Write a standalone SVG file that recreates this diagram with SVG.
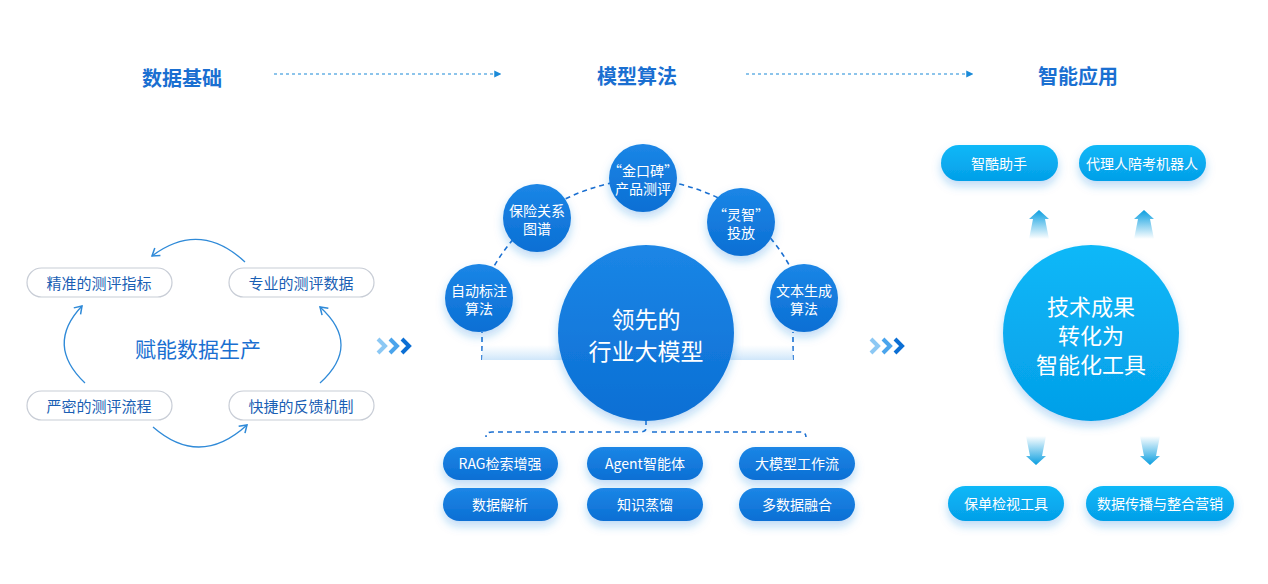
<svg xmlns="http://www.w3.org/2000/svg" width="1268" height="584" viewBox="0 0 1268 584">
<defs>
<style>
text{font-family:"Noto Sans CJK SC","Noto Sans",sans-serif;text-anchor:middle;dominant-baseline:central}
.hd{font-size:20px;fill:#1a6fd1;font-weight:bold}
.wp{fill:#fff;stroke:#c8cdd6;stroke-width:1.2}
.wt{font-size:15px;fill:#1a5fb4}
.bp{fill:url(#gb);filter:url(#sh)}
.cp{fill:url(#gc);filter:url(#sh)}
.pt{font-size:14px;fill:#fff}
.dash{fill:none;stroke:#1a6fd1;stroke-width:1.6;stroke-dasharray:5 4}
.arc{fill:none;stroke:#2f8ad8;stroke-width:1.3}
</style>
<linearGradient id="gb" x1="0" y1="0" x2="0" y2="1"><stop offset="0" stop-color="#1b86e6"/><stop offset="1" stop-color="#0c6fd4"/></linearGradient>
<linearGradient id="gc" x1="0" y1="0" x2="0" y2="1"><stop offset="0" stop-color="#0db8f8"/><stop offset="1" stop-color="#049fe8"/></linearGradient>
<linearGradient id="gband" x1="0" y1="0" x2="0" y2="1"><stop offset="0" stop-color="#d6ebfb" stop-opacity="0"/><stop offset="1" stop-color="#cfe6fa"/></linearGradient>
<linearGradient id="gup" x1="0" y1="0" x2="0" y2="1"><stop offset="0" stop-color="#0a9ee0"/><stop offset="1" stop-color="#0a9ee0" stop-opacity="0"/></linearGradient>
<linearGradient id="gdn" x1="0" y1="1" x2="0" y2="0"><stop offset="0" stop-color="#0a9ee0"/><stop offset="1" stop-color="#0a9ee0" stop-opacity="0"/></linearGradient>
<filter id="sh" x="-30%" y="-40%" width="160%" height="200%"><feDropShadow dx="0" dy="5" stdDeviation="5" flood-color="#1a86e0" flood-opacity="0.3"/></filter>
<marker id="ah" viewBox="0 0 10 10" refX="8" refY="5" markerWidth="6" markerHeight="6" orient="auto"><path d="M0 0L10 5L0 10z" fill="#1a8ad8"/></marker>
<marker id="oa" viewBox="0 0 10 10" refX="8" refY="5" markerWidth="9" markerHeight="9" orient="auto"><path d="M2 1L8 5L2 9" fill="none" stroke="#2f8ad8" stroke-width="1.3"/></marker>
</defs>
<rect width="1268" height="584" fill="#fff"/>
<g id="header">
<text class="hd" x="182" y="77">数据基础</text>
<text class="hd" x="637" y="75">模型算法</text>
<text class="hd" x="1078" y="75">智能应用</text>
</g>
<g id="connectors">
<line x1="274" y1="74" x2="500" y2="74" stroke="#1a8ad8" stroke-width="1.2" stroke-dasharray="3 3" marker-end="url(#ah)"/>
<line x1="746" y1="74" x2="972" y2="74" stroke="#1a8ad8" stroke-width="1.2" stroke-dasharray="3 3" marker-end="url(#ah)"/>
<path class="arc" d="M245 262 Q200 220 152 256" marker-end="url(#oa)"/>
<path class="arc" d="M85 383 Q45 345 82 306" marker-end="url(#oa)"/>
<path class="arc" d="M320 383 Q362 345 320 307" marker-end="url(#oa)"/>
<path class="arc" d="M153 427 Q200 468 247 425" marker-end="url(#oa)"/>
<path class="dash" d="M482 360V332 M793 360V332"/>
<path class="dash" d="M479 298 Q520 190 643 178 Q766 190 804 298"/>
<path class="dash" d="M646 420V428Q646 432 640 432H492Q486 432 486 437 M652 432H800Q806 432 806 437"/>
<g fill="none" stroke-width="4" stroke-linejoin="miter">
<path d="M378 339l7 7-7 7" stroke="#8cc8f4"/><path d="M390 339l7 7-7 7" stroke="#4aa4ec"/><path d="M402 339l7 7-7 7" stroke="#0c6fd4"/>
<path d="M871 339l7 7-7 7" stroke="#8cc8f4"/><path d="M883 339l7 7-7 7" stroke="#4aa4ec"/><path d="M895 339l7 7-7 7" stroke="#0c6fd4"/>
</g>
<path d="M1039 210l-10 9h4l-4 20h20l-4-20h4z" fill="url(#gup)"/>
<path d="M1144 210l-10 9h4l-4 20h20l-4-20h4z" fill="url(#gup)"/>
<path d="M1036 465l-10-9h4l-4-20h20l-4 20h4z" fill="url(#gdn)"/>
<path d="M1150 465l-10-9h4l-4-20h20l-4 20h4z" fill="url(#gdn)"/>
</g>
<g id="left">
<text x="198" y="348" font-size="21" fill="#1a6fd1">赋能数据生产</text>
<g id="n1"><rect class="wp" x="27" y="268" width="145" height="29" rx="14.5"/><text class="wt" x="99" y="282">精准的测评指标</text></g>
<g id="n2"><rect class="wp" x="229" y="268" width="145" height="29" rx="14.5"/><text class="wt" x="301" y="282">专业的测评数据</text></g>
<g id="n3"><rect class="wp" x="27" y="391" width="145" height="29" rx="14.5"/><text class="wt" x="99" y="405">严密的测评流程</text></g>
<g id="n4"><rect class="wp" x="229" y="391" width="145" height="29" rx="14.5"/><text class="wt" x="301" y="405">快捷的反馈机制</text></g>
</g>
<g id="middle">
<path d="M482 360H793V345H482z" fill="url(#gband)"/>
<g id="core"><circle cx="646" cy="333" r="88" fill="url(#gb)" filter="url(#sh)"/><text x="646" y="318" font-size="23" fill="#fff">领先的</text><text x="646" y="350" font-size="23" fill="#fff">行业大模型</text></g>
<g id="c1"><circle cx="479" cy="298" r="34" class="bp"/><text class="pt" x="479" y="290">自动标注</text><text class="pt" x="479" y="308">算法</text></g>
<g id="c2"><circle cx="537" cy="218" r="34" class="bp"/><text class="pt" x="537" y="210">保险关系</text><text class="pt" x="537" y="228">图谱</text></g>
<g id="c3"><circle cx="643" cy="178" r="34" class="bp"/><text class="pt" x="643" y="170">“金口碑”</text><text class="pt" x="643" y="188">产品测评</text></g>
<g id="c4"><circle cx="741" cy="222" r="34" class="bp"/><text class="pt" x="741" y="214">“灵智”</text><text class="pt" x="741" y="232">投放</text></g>
<g id="c5"><circle cx="804" cy="298" r="34" class="bp"/><text class="pt" x="804" y="290">文本生成</text><text class="pt" x="804" y="308">算法</text></g>
<g id="p1"><rect class="bp" x="443" y="447" width="115" height="33" rx="16.5"/><text class="pt" x="500" y="463">RAG检索增强</text></g>
<g id="p2"><rect class="bp" x="587" y="447" width="116" height="33" rx="16.5"/><text class="pt" x="645" y="463">Agent智能体</text></g>
<g id="p3"><rect class="bp" x="739" y="447" width="116" height="33" rx="16.5"/><text class="pt" x="797" y="463">大模型工作流</text></g>
<g id="p4"><rect class="bp" x="443" y="488" width="115" height="33" rx="16.5"/><text class="pt" x="500" y="504">数据解析</text></g>
<g id="p5"><rect class="bp" x="587" y="488" width="116" height="33" rx="16.5"/><text class="pt" x="645" y="504">知识蒸馏</text></g>
<g id="p6"><rect class="bp" x="739" y="488" width="116" height="33" rx="16.5"/><text class="pt" x="797" y="504">多数据融合</text></g>
</g>
<g id="right">
<g id="tech"><circle cx="1091" cy="333" r="88" fill="url(#gc)" filter="url(#sh)"/><text x="1091" y="305" font-size="22" fill="#fff">技术成果</text><text x="1091" y="334" font-size="22" fill="#fff">转化为</text><text x="1091" y="363" font-size="22" fill="#fff">智能化工具</text></g>
<g id="a1"><rect class="cp" x="941" y="145" width="117" height="36" rx="18"/><text class="pt" x="999" y="163">智酷助手</text></g>
<g id="a2"><rect class="cp" x="1079" y="145" width="127" height="36" rx="18"/><text class="pt" x="1142" y="163">代理人陪考机器人</text></g>
<g id="a3"><rect class="cp" x="948" y="486" width="116" height="35" rx="17.5"/><text class="pt" x="1006" y="503">保单检视工具</text></g>
<g id="a4"><rect class="cp" x="1086" y="486" width="148" height="35" rx="17.5"/><text class="pt" x="1160" y="503">数据传播与整合营销</text></g>
</g>
</svg>
